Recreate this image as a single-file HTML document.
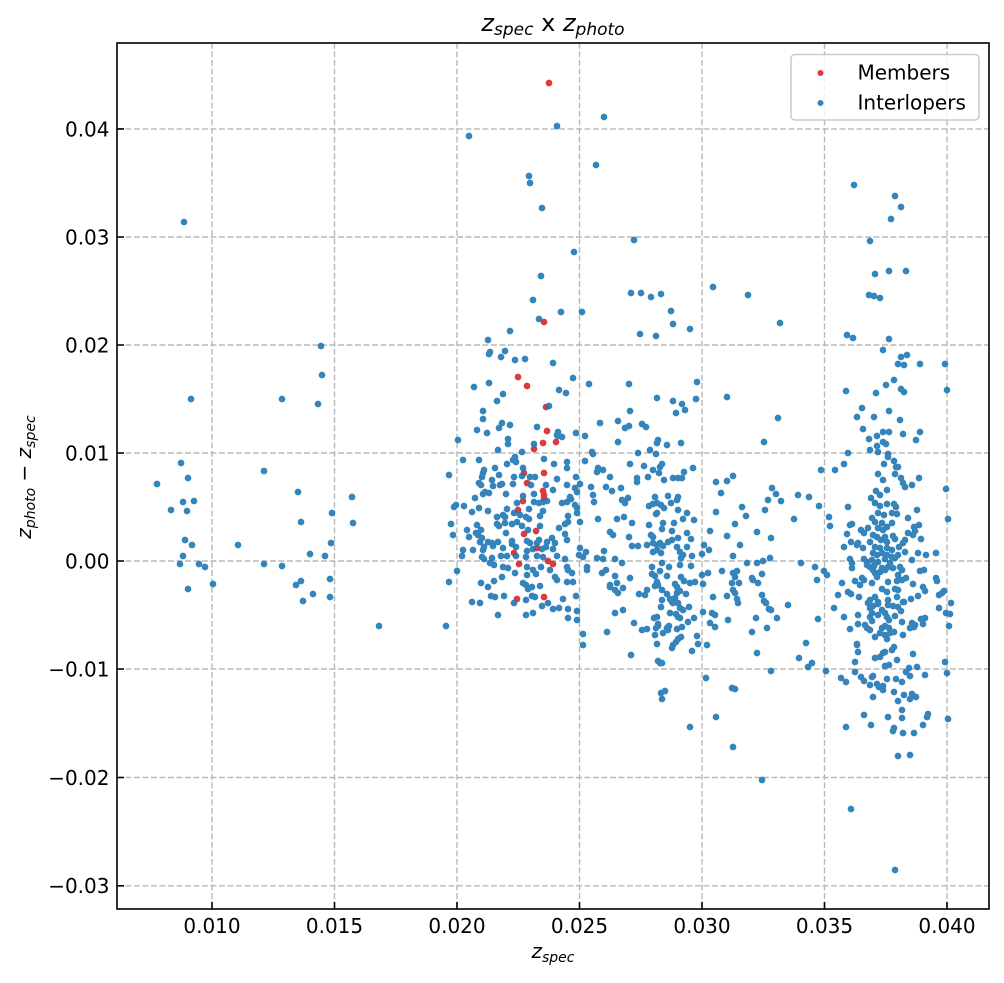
<!DOCTYPE html>
<html><head><meta charset="utf-8"><style>
html,body{margin:0;padding:0;background:#fff;}
svg{display:block;}
text{font-family:"DejaVu Sans","Liberation Sans",sans-serif;fill:#000;}
</style></head><body>
<svg width="1004" height="983" viewBox="0 0 1004 983" xmlns="http://www.w3.org/2000/svg">
<rect x="0" y="0" width="1004" height="983" fill="#fff"/>
<!-- grid -->
<g stroke="#b8b8b8" stroke-width="1.4" stroke-dasharray="5.9,2.6" fill="none">
<path d="M212 43V909M334.5 43V909M457 43V909M579.5 43V909M702 43V909M824.5 43V909M947 43V909"/>
<path d="M117 128.9H989M117 237H989M117 345H989M117 453H989M117 561H989M117 669H989M117 777.5H989M117 885.8H989"/>
</g>
<!-- members -->
<path fill="none" stroke="#d62728" stroke-opacity="0.9" stroke-width="6.7" stroke-linecap="round" d="M549 83h.01M544 322h.01M518 377h.01M527 386h.01M546 407h.01M547 431h.01M543 443h.01M556 442h.01M534 449h.01M524 473h.01M544 473h.01M527 483h.01M543 491h.01M544 495h.01M544 498h.01M523 501h.01M518 510h.01M536 531h.01M524 534h.01M514 553h.01M537 548h.01M548 561h.01M553 564h.01M519 564h.01M517 599h.01M544 597h.01"/>
<!-- interlopers -->
<path fill="none" stroke="#1f77b4" stroke-opacity="0.9" stroke-width="6.7" stroke-linecap="round" d="
M184 222h.01M321 346h.01M322 375h.01M191 399h.01M282 399h.01M318 404h.01M181 463h.01M264 471h.01M188 478h.01M157 484h.01M298 492h.01M352 497h.01M183 502h.01M194 501h.01M171 510h.01M187 511h.01M332 513h.01M301 522h.01M353 523h.01M185 540h.01M192 545h.01M238 545h.01M331 543h.01M310 554h.01M325 556h.01M183 556h.01M180 564h.01M199 564h.01M205 567h.01M264 564h.01M282 566h.01M330 579h.01M301 581h.01M296 585h.01M213 584h.01M188 589h.01M313 594h.01M303 601h.01M330 597h.01M379 626h.01M446 626h.01
M604 117h.01M557 126h.01M469 136h.01M596 165h.01M529 176h.01M530 183h.01M542 208h.01M634 240h.01M574 252h.01M541 276h.01M713 287h.01M631 293h.01M641 293h.01M651 297h.01M661 294h.01M748 295h.01M671 311h.01M673 324h.01M690 329h.01M780 323h.01M640 334h.01M656 336h.01M762 780h.01
M854 185h.01M895 196h.01M901 207h.01M891 219h.01M870 241h.01M875 274h.01M889 271h.01M906 271h.01M869 295h.01M874 296h.01M880 298h.01
M533 300h.01M539 319h.01M561 312h.01M582 312h.01M510 331h.01M488 340h.01M490 352h.01M489 354h.01M505 351h.01M501 357h.01M515 360h.01M525 359h.01M553 363h.01M573 378h.01M589 384h.01M474 387h.01M489 383h.01M559 390h.01M566 393h.01M503 394h.01M497 401h.01M549 406h.01M483 411h.01M483 419h.01M502 423h.01M499 428h.01M510 425h.01M477 430h.01M487 433h.01M537 427h.01M558 432h.01M557 435h.01M558 436h.01M562 437h.01M576 433h.01M585 436h.01M600 423h.01M458 440h.01M508 439h.01M508 444h.01M534 444h.01M498 450h.01M522 452h.01M592 452h.01M593 454h.01M463 460h.01M479 460h.01M515 457h.01M513 460h.01M516 462h.01M544 459h.01M567 462h.01M585 461h.01M554 464h.01M507 464h.01M495 468h.01M523 468h.01M567 468h.01M598 468h.01M484 470h.01
M449 475h.01M483 473h.01M482 477h.01M492 480h.01M499 475h.01M514 477h.01M522 476h.01M530 477h.01M535 477h.01M557 479h.01M576 477h.01M603 470h.01M597 472h.01M479 483h.01M481 485h.01M493 486h.01M500 485h.01M502 484h.01M513 484h.01M531 485h.01M546 485h.01M553 490h.01M567 485h.01M575 488h.01M580 484h.01M591 487h.01M606 487h.01M485 492h.01M483 494h.01M489 493h.01M506 494h.01M475 498h.01M523 496h.01M534 494h.01M570 497h.01M577 492h.01M593 495h.01M517 503h.01M534 502h.01M539 503h.01M543 502h.01M547 501h.01M562 503h.01M567 502h.01M571 499h.01M594 502h.01
M456 505h.01M454 507h.01M464 506h.01M479 508h.01M472 512h.01M507 509h.01M529 509h.01M543 511h.01M575 505h.01M577 508h.01M577 513h.01M488 511h.01M497 517h.01M514 513h.01M520 515h.01M526 517h.01M503 515h.01M505 517h.01M529 519h.01M540 516h.01M568 516h.01M580 522h.01M598 519h.01M451 524h.01M477 525h.01M497 524h.01M499 526h.01M505 523h.01M512 524h.01M517 522h.01M522 526h.01M540 526h.01M559 528h.01M565 524h.01M568 522h.01M467 530h.01M481 530h.01M476 533h.01M478 535h.01M506 533h.01M528 530h.01M565 534h.01M453 535h.01M469 537h.01
M482 538h.01M480 542h.01M488 542h.01M492 543h.01M498 542h.01M512 541h.01M512 544h.01M527 541h.01M530 543h.01M539 540h.01M537 543h.01M547 542h.01M552 538h.01M555 543h.01M567 540h.01M484 547h.01M483 550h.01M493 546h.01M473 550h.01M463 550h.01M503 548h.01M516 547h.01M527 551h.01M533 549h.01M542 549h.01M546 547h.01M553 549h.01M580 548h.01M586 552h.01M604 551h.01
M462 556h.01M482 557h.01M484 559h.01M492 558h.01M501 556h.01M507 556h.01M516 556h.01M526 557h.01M537 556h.01M543 557h.01M557 556h.01M565 559h.01M579 555h.01M583 557h.01M597 558h.01M603 559h.01M490 563h.01M494 565h.01M527 567h.01M541 567h.01M567 567h.01M568 570h.01M587 567h.01M606 570h.01M503 567h.01M508 568h.01M457 571h.01
M533 570h.01M536 574h.01M550 570h.01M572 573h.01M587 570h.01M602 573h.01M515 573h.01M527 575h.01M494 581h.01M502 577h.01M449 582h.01M481 583h.01M523 583h.01M526 585h.01M555 577h.01M557 580h.01M540 586h.01M567 582h.01M573 582h.01M488 587h.01M532 587h.01M528 589h.01M610 587h.01M491 596h.01M495 597h.01M504 596h.01M532 596h.01M535 597h.01M526 600h.01M514 603h.01M576 596h.01M472 602h.01M480 603h.01M548 603h.01M563 599h.01M542 606h.01M553 609h.01M559 608h.01M568 609h.01M577 611h.01M498 615h.01M526 615h.01M533 613h.01M568 618h.01M577 620h.01M583 634h.01M607 632h.01M583 645h.01
M629 384h.01M697 382h.01M657 398h.01M673 401h.01M682 404h.01M696 399h.01M727 397h.01M630 411h.01M676 413h.01M685 410h.01M778 418h.01M618 421h.01M625 428h.01M629 426h.01M642 424h.01M646 427h.01M618 442h.01M658 440h.01M657 443h.01M667 445h.01M681 443h.01M764 442h.01M650 450h.01M656 454h.01M638 453h.01M630 464h.01M644 466h.01M653 470h.01M662 464h.01M660 467h.01M684 472h.01M693 468h.01M659 473h.01M648 477h.01M637 478h.01M637 482h.01M664 480h.01M673 478h.01M678 478h.01M682 478h.01M610 477h.01M716 482h.01M727 481h.01M733 476h.01M612 491h.01M621 488h.01M721 493h.01M772 488h.01M776 494h.01M798 495h.01M809 497h.01M768 500h.01M781 501h.01M622 500h.01M625 503h.01M628 498h.01M655 497h.01M668 496h.01M678 497h.01M677 500h.01M649 506h.01M653 504h.01M657 503h.01M661 505h.01M671 503h.01M664 508h.01M656 514h.01M657 513h.01M678 510h.01M687 513h.01M742 507h.01M765 510h.01M716 512h.01M746 516h.01M617 519h.01M624 517h.01M632 523h.01M663 523h.01M674 523h.01M683 519h.01M694 520h.01M649 525h.01M662 529h.01M672 531h.01M735 524h.01M794 519h.01M610 532h.01M613 535h.01M629 537h.01M651 535h.01M653 537h.01M678 538h.01M687 533h.01M691 539h.01M710 531h.01M727 536h.01M757 532h.01M771 538h.01M632 546h.01M638 546h.01M647 545h.01M653 543h.01M657 545h.01M660 543h.01M663 546h.01M668 542h.01M672 540h.01M677 547h.01M687 547h.01M704 545h.01M740 545h.01
M615 559h.01M622 563h.01M653 552h.01M657 550h.01M661 553h.01M680 552h.01M683 555h.01M681 558h.01M692 556h.01M702 554h.01M709 550h.01M733 556h.01M747 563h.01M757 563h.01M763 561h.01M770 558h.01M801 563h.01M652 567h.01M662 563h.01M669 567h.01M680 565h.01M691 566h.01M652 574h.01M655 576h.01M660 571h.01M667 576h.01M681 577h.01M684 581h.01M690 583h.01M695 582h.01M702 575h.01M708 573h.01M722 571h.01M733 573h.01M737 571h.01M735 577h.01M732 583h.01M739 583h.01M752 578h.01M753 580h.01M758 583h.01M762 574h.01M615 576h.01M630 578h.01M610 585h.01M617 583h.01M623 588h.01M615 590h.01M618 593h.01M657 582h.01M658 585h.01M655 586h.01M675 584h.01M677 587h.01M662 590h.01M680 591h.01M677 593h.01M703 584h.01M647 590h.01M639 594h.01M645 595h.01M667 594h.01M686 594h.01M733 590h.01M735 593h.01M727 596h.01M713 597h.01M762 595h.01M764 601h.01M766 603h.01M737 599h.01M738 603h.01M662 600h.01M670 599h.01M672 602h.01M675 598h.01M673 603h.01M678 603h.01M788 605h.01M769 609h.01M771 610h.01M615 613h.01M623 610h.01M661 607h.01M680 608h.01M683 610h.01M689 607h.01M670 613h.01M703 612h.01M712 613h.01M715 615h.01M657 617h.01M654 618h.01M676 614h.01M678 617h.01M680 618h.01M694 618h.01M728 620h.01M756 618h.01M777 618h.01M634 623h.01M658 624h.01M688 622h.01M710 623h.01M715 627h.01M642 630h.01M647 629h.01M656 628h.01M658 626h.01M668 630h.01M667 628h.01M669 626h.01M677 629h.01M682 627h.01M663 633h.01M655 635h.01M697 636h.01M752 632h.01M767 628h.01M678 639h.01M676 642h.01M673 645h.01M672 648h.01M681 637h.01M657 644h.01M698 644h.01M707 645h.01M692 651h.01M631 655h.01M757 653h.01M806 643h.01M799 658h.01M658 661h.01M660 663h.01M662 663h.01M808 667h.01M812 663h.01M771 671h.01M706 678h.01M732 688h.01M735 689h.01M661 693h.01M665 691h.01M662 699h.01M716 717h.01M690 727h.01M733 747h.01
M847 335h.01M853 338h.01M889 339h.01M883 350h.01M901 357h.01M907 355h.01M898 364h.01M904 365h.01M920 364h.01M945 364h.01M894 380h.01M886 385h.01M846 391h.01M876 393h.01M901 389h.01M904 392h.01M947 390h.01M862 408h.01M889 411h.01M857 417h.01M874 417h.01M900 420h.01M863 429h.01M883 432h.01M889 432h.01M903 434h.01M920 432h.01M916 440h.01M869 439h.01M877 436h.01M883 442h.01M886 444h.01M877 446h.01M870 450h.01M878 452h.01M848 453h.01M888 454h.01M888 457h.01M894 461h.01M844 464h.01M884 464h.01M896 467h.01M898 467h.01M821 470h.01M835 470h.01M878 474h.01M895 474h.01M901 478h.01M883 480h.01M919 478h.01M903 483h.01M905 487h.01M912 485h.01M946 489h.01M876 491h.01M887 490h.01M880 495h.01M871 498h.01
M819 506h.01M848 507h.01M875 503h.01M880 506h.01M887 504h.01M894 504h.01M896 507h.01M878 513h.01M884 515h.01M892 513h.01M897 514h.01M829 517h.01M830 526h.01M908 518h.01M917 510h.01M948 519h.01M850 525h.01M852 524h.01M872 518h.01M875 522h.01M882 523h.01M887 527h.01M892 523h.01M868 528h.01M861 530h.01M878 528h.01M883 530h.01M914 527h.01M919 525h.01M847 534h.01M864 533h.01M873 535h.01M877 537h.01M885 537h.01M881 540h.01M893 536h.01M895 539h.01M908 533h.01M913 535h.01M915 531h.01M921 539h.01M851 542h.01M858 543h.01M857 545h.01M870 542h.01M887 542h.01M905 540h.01M903 543h.01M844 547h.01M863 548h.01M875 547h.01M880 548h.01M887 548h.01M892 550h.01M899 547h.01M905 552h.01M873 553h.01M877 555h.01M882 553h.01M887 555h.01M892 557h.01M898 555h.01M918 553h.01M926 555h.01M936 553h.01
M850 559h.01M852 563h.01M864 559h.01M867 562h.01M872 560h.01M878 562h.01M885 559h.01M890 563h.01M895 558h.01M912 560h.01M867 565h.01M870 567h.01M874 566h.01M882 568h.01M888 567h.01M893 568h.01M852 568h.01M873 570h.01M875 573h.01M880 572h.01M885 570h.01M877 577h.01M900 567h.01M902 570h.01M898 575h.01M920 571h.01M924 570h.01M815 567h.01M824 571h.01M827 575h.01M817 580h.01M862 578h.01M864 580h.01M855 581h.01M872 583h.01M888 582h.01M897 581h.01M902 580h.01M906 578h.01M860 585h.01M842 583h.01M848 592h.01M851 594h.01M882 589h.01M887 592h.01M895 589h.01M898 590h.01M913 584h.01M923 587h.01M925 591h.01M936 578h.01M937 581h.01M944 591h.01M942 593h.01M838 595h.01M859 597h.01M870 600h.01M875 597h.01M868 603h.01M873 606h.01M878 602h.01M878 604h.01M888 600h.01M897 597h.01M904 602h.01M911 599h.01M918 596h.01M939 595h.01M951 603h.01
M834 608h.01M870 608h.01M872 613h.01M882 610h.01M885 613h.01M888 605h.01M893 606h.01M898 607h.01M901 611h.01M903 602h.01M939 608h.01M946 613h.01M950 614h.01M844 617h.01M858 615h.01M870 617h.01M872 621h.01M878 615h.01M887 617h.01M889 620h.01M895 616h.01M818 619h.01M902 622h.01M912 623h.01M915 625h.01M921 619h.01M925 618h.01M850 629h.01M858 624h.01M865 625h.01M867 628h.01M870 630h.01M882 628h.01M885 626h.01M889 628h.01M880 633h.01M885 635h.01M890 633h.01M894 632h.01M910 628h.01M914 627h.01M923 624h.01M949 626h.01M875 637h.01M887 639h.01M903 635h.01M857 644h.01
M857 645h.01M858 652h.01M885 652h.01M883 653h.01M892 650h.01M894 647h.01M913 654h.01M855 662h.01M875 658h.01M880 657h.01M897 660h.01M945 662h.01M826 671h.01M855 672h.01M885 666h.01M889 665h.01M909 668h.01M917 667h.01M906 672h.01M947 673h.01M861 677h.01M864 681h.01M872 677h.01M873 676h.01M887 679h.01M896 679h.01M902 682h.01M910 676h.01M925 675h.01M841 678h.01M846 682h.01M870 685h.01M877 684h.01M879 687h.01M883 686h.01M883 690h.01M873 697h.01M894 692h.01M904 695h.01M912 694h.01M910 699h.01M916 697h.01M898 701h.01M902 710h.01M864 715h.01M888 717h.01M902 718h.01M928 714h.01M927 717h.01M948 719h.01M846 727h.01M871 725h.01M894 728h.01M893 731h.01M903 733h.01M914 733h.01M923 725h.01M898 756h.01M910 755h.01M851 809h.01M895 870h.01
"/>
<!-- spines -->
<rect x="117" y="43" width="872" height="866" fill="none" stroke="#000" stroke-width="1.6"/>
<!-- ticks (inward) -->
<g stroke="#000" stroke-width="1.6">
<path d="M212 909v-7M334.5 909v-7M457 909v-7M579.5 909v-7M702 909v-7M824.5 909v-7M947 909v-7"/>
<path d="M117 128.9h7M117 237h7M117 345h7M117 453h7M117 561h7M117 669h7M117 777.5h7M117 885.8h7"/>
</g>
<!-- tick labels -->
<g font-size="20" text-anchor="middle">
<text x="212" y="933">0.010</text>
<text x="334.5" y="933">0.015</text>
<text x="457" y="933">0.020</text>
<text x="579.5" y="933">0.025</text>
<text x="702" y="933">0.030</text>
<text x="824.5" y="933">0.035</text>
<text x="947" y="933">0.040</text>
</g>
<g font-size="20" text-anchor="end">
<text x="109.5" y="136.3">0.04</text>
<text x="109.5" y="244.4">0.03</text>
<text x="109.5" y="352.4">0.02</text>
<text x="109.5" y="460.4">0.01</text>
<text x="109.5" y="568.4">0.00</text>
<text x="109.5" y="676.4">−0.01</text>
<text x="109.5" y="784.9">−0.02</text>
<text x="109.5" y="893.2">−0.03</text>
</g>
<!-- title -->
<text x="553" y="31" font-size="24" text-anchor="middle"><tspan font-style="italic">z</tspan><tspan font-size="17" font-style="italic" dy="4">spec</tspan><tspan dy="-4"> x </tspan><tspan font-style="italic">z</tspan><tspan font-size="17" font-style="italic" dy="4">photo</tspan></text>
<!-- x label -->
<text x="553" y="958" font-size="20" text-anchor="middle"><tspan font-style="italic">z</tspan><tspan font-size="14" font-style="italic" dy="4">spec</tspan></text>
<!-- y label -->
<text transform="translate(31,477) rotate(-90)" font-size="20" text-anchor="middle"><tspan font-style="italic">z</tspan><tspan font-size="14" font-style="italic" dy="4">photo</tspan><tspan dy="-4"> − </tspan><tspan font-style="italic">z</tspan><tspan font-size="14" font-style="italic" dy="4">spec</tspan></text>
<!-- legend -->
<rect x="791" y="54.5" width="188" height="65.5" rx="4" ry="4" fill="#fff" fill-opacity="0.8" stroke="#cccccc" stroke-width="1.6"/>
<circle cx="820.5" cy="73" r="3" fill="#d62728" fill-opacity="0.9"/>
<circle cx="820.5" cy="103" r="3" fill="#1f77b4" fill-opacity="0.9"/>
<text x="857.5" y="79.3" font-size="20">Members</text>
<text x="857.5" y="109.3" font-size="20">Interlopers</text>
</svg>
</body></html>
